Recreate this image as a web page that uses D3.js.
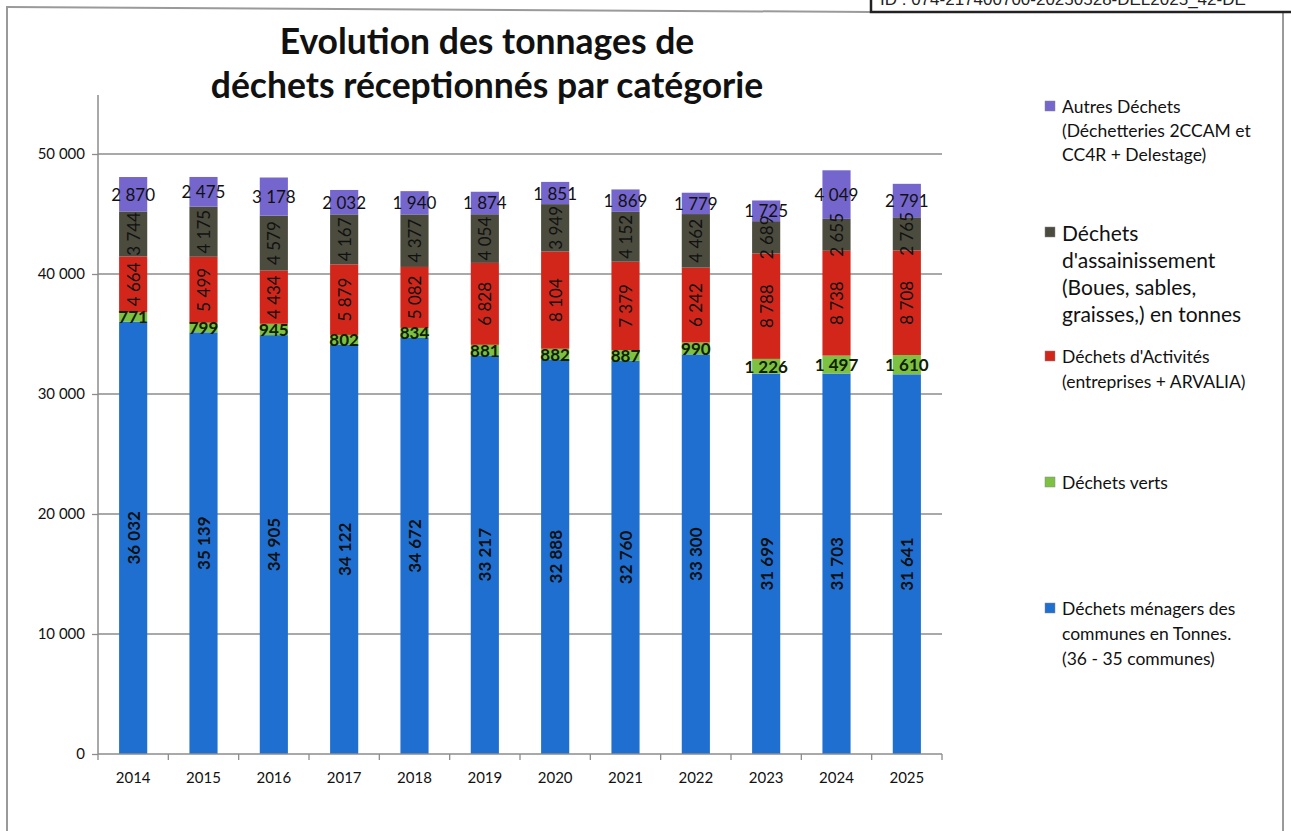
<!DOCTYPE html>
<html><head><meta charset="utf-8">
<script src="https://cdn.jsdelivr.net/npm/d3@7"></script>
<style>body{margin:0;background:#fff}svg{display:block}text{font-family:Lato,"Open Sans",sans-serif}</style>
</head><body>
<svg id="c" width="1291" height="831"></svg>
<script>
const years = ["2014","2015","2016","2017","2018","2019","2020","2021","2022","2023","2024","2025"];
const menagers = [36032,35139,34905,34122,34672,33217,32888,32760,33300,31699,31703,31641];
const verts = [771,799,945,802,834,881,882,887,990,1226,1497,1610];
const activites = [4664,5499,4434,5879,5082,6828,8104,7379,6242,8788,8738,8708];
const assainissement = [3744,4175,4579,4167,4377,4054,3949,4152,4462,2689,2655,2765];
const autres = [2870,2475,3178,2032,1940,1874,1851,1869,1779,1725,4049,2791];
const yTicks = [0,10000,20000,30000,40000,50000];
const seriesKeys = ["menagers","verts","activites","assainissement","autres"];
const seriesValues = {menagers, verts, activites, assainissement, autres};
const colors = {menagers:"#1f6fd1", verts:"#7cc142", activites:"#d3261b", assainissement:"#4b4b3e", autres:"#7466cc"};
const legendItems = [
  {key:"autres", lines:["Autres Déchets","(Déchetteries 2CCAM et","CC4R + Delestage)"], y:106, dy:24, size:17.5},
  {key:"assainissement", lines:["Déchets","d'assainissement","(Boues, sables,","graisses,) en tonnes"], y:232, dy:27, size:21},
  {key:"activites", lines:["Déchets d'Activités","(entreprises + ARVALIA)"], y:356, dy:25, size:17.5},
  {key:"verts", lines:["Déchets verts"], y:482, dy:25, size:17.5},
  {key:"menagers", lines:["Déchets ménagers des","communes en Tonnes.","(36 - 35 communes)"], y:608, dy:25, size:17.5}
];
const titleLines = ["Evolution des tonnages de","déchets réceptionnés par catégorie"];

const loc = d3.formatLocale({thousands:"\u00a0", grouping:[3], decimal:","});
const fmt = loc.format(",d");

const svg = d3.select("#c");
// page frame
svg.append("line").attr("x1",7).attr("y1",7).attr("x2",871).attr("y2",12).attr("stroke","#9a9a9a").attr("stroke-width",2);
svg.append("line").attr("x1",7).attr("y1",6).attr("x2",7).attr("y2",831).attr("stroke","#9a9a9a").attr("stroke-width",2);
svg.append("line").attr("x1",1283).attr("y1",12).attr("x2",1283).attr("y2",831).attr("stroke","#9a9a9a").attr("stroke-width",2);
svg.append("rect").attr("x",871).attr("y",-20).attr("width",440).attr("height",32).attr("fill","#fff").attr("stroke","#222").attr("stroke-width",2.5);
svg.append("text").attr("x",880).attr("y",5).attr("font-size",17).style("font-family","'Liberation Sans',Arial,sans-serif").attr("fill","#222")
  .text("ID : 074-217400700-20250528-DEL2025_42-DE");

const x = d3.scaleBand().domain(years).range([98,942]).paddingInner(0.6).paddingOuter(0.3);
const y = d3.scaleLinear().domain([0,50000]).range([754,154]);

// gridlines
svg.append("g").selectAll("line").data(yTicks.slice(1)).join("line")
  .attr("x1",98).attr("x2",942).attr("y1",d=>y(d)).attr("y2",d=>y(d)).attr("stroke","#8c8c8c").attr("stroke-width",1.3);

const data = years.map((yr,i)=>{const o={year:yr}; seriesKeys.forEach(k=>o[k]=seriesValues[k][i]); return o;});
const stack = d3.stack().keys(seriesKeys)(data);

const g = svg.append("g");
stack.forEach(s=>{
  g.append("g").attr("fill",colors[s.key]).selectAll("rect").data(s).join("rect")
   .attr("x",d=>x(d.data.year)).attr("width",x.bandwidth())
   .attr("y",d=>y(d[1])).attr("height",d=>y(d[0])-y(d[1]));
});

// axes
const yAxis = d3.axisLeft(y).tickValues(yTicks).tickSize(6).tickFormat(d=>fmt(d)).tickPadding(7);
const ya = svg.append("g").attr("transform","translate(98,0)").call(yAxis);
ya.select(".domain").attr("d","M0,95V754").attr("stroke","#8c8c8c").attr("stroke-width",1.5);
ya.selectAll(".tick line").attr("stroke","#8c8c8c").attr("stroke-width",1.3);
ya.selectAll("text").attr("font-size",15).attr("fill","#111").style("font-family","Lato,sans-serif");

const xa = svg.append("g").attr("transform","translate(0,754)").call(d3.axisBottom(x).tickSize(0).tickPadding(18));
xa.select(".domain").attr("stroke","#8c8c8c").attr("stroke-width",1.5).attr("d","M98,0H942");
xa.selectAll("text").attr("font-size",15).attr("fill","#111").style("font-family","Lato,sans-serif");
const step = x.step();
svg.append("g").selectAll("line").data(d3.range(years.length+1)).join("line")
  .attr("x1",i=>98+i*step).attr("x2",i=>98+i*step).attr("y1",754).attr("y2",760).attr("stroke","#8c8c8c").attr("stroke-width",1.3);

// labels
const lab = svg.append("g").attr("fill","#111").style("font-family","Lato,sans-serif");
stack.forEach(s=>{
  const rotated = (s.key==="menagers"||s.key==="activites"||s.key==="assainissement");
  s.forEach(d=>{
    const cx = x(d.data.year)+x.bandwidth()/2;
    const cy = (y(d[0])+y(d[1]))/2;
    const t = lab.append("text").attr("font-size",17).attr("text-anchor","middle").attr("dominant-baseline","central")
      .text(fmt(d[1]-d[0]));
    if (rotated) t.attr("transform",`translate(${cx},${cy}) rotate(-90)`);
    else t.attr("x",cx).attr("y",cy);
    if (s.key==="menagers"||s.key==="verts") t.attr("font-weight","bold");
    if (s.key==="verts") t.attr("fill","#102000");
  });
});

// title
svg.append("g").selectAll("text").data(titleLines).join("text")
  .attr("x",487).attr("y",(d,i)=>54+i*44).attr("text-anchor","middle").attr("font-size",35.5).attr("font-weight","bold").attr("fill","#111").text(d=>d);

// legend
const lg = svg.append("g");
legendItems.forEach(it=>{
  lg.append("rect").attr("x",1045).attr("y",it.y-5).attr("width",10).attr("height",10).attr("fill",colors[it.key]).attr("stroke","#888").attr("stroke-width",0.5);
  it.lines.forEach((l,j)=>{
    lg.append("text").attr("x",1062).attr("y",it.y+j*it.dy).attr("dominant-baseline","central")
      .attr("font-size",it.size).attr("fill","#111").text(l);
  });
});
</script>
</body></html>
